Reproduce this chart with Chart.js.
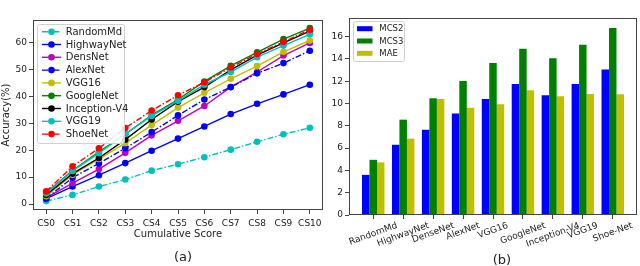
<!DOCTYPE html>
<html>
<head>
<meta charset="utf-8">
<script src="https://cdn.jsdelivr.net/npm/chart.js@4"></script>
<style>
  html, body { margin: 0; padding: 0; background: #fff; }
  body { width: 640px; height: 266px; position: relative; overflow: hidden; font-family: "DejaVu Sans", sans-serif; }
  .box { position: absolute; top: 0; height: 266px; }
  .cap { position: absolute; font-size: 13px; color: #222; transform: translate(-50%, -50%); }
</style>
</head>
<body>
<div class="box" style="left:0;width:330px"><canvas id="cs"></canvas></div>
<div class="box" style="left:325px;width:315px"><canvas id="mae"></canvas></div>
<div class="cap" style="left:183px;top:256px">(a)</div>
<div class="cap" style="left:502px;top:259px">(b)</div>
<script>
// ---- data (a): cumulative score curves
const csLabels = ['CS0', 'CS1', 'CS2', 'CS3', 'CS4', 'CS5', 'CS6', 'CS7', 'CS8', 'CS9', 'CS10'];
const randomMd = [1.1, 3.4, 6.5, 9.1, 12.4, 14.8, 17.4, 20.2, 23.1, 25.9, 28.3];
const highwayNet = [2.0, 6.5, 10.7, 15.2, 19.8, 24.3, 28.8, 33.4, 37.2, 40.7, 44.3];
const densNet = [2.3, 7.8, 13.0, 19.0, 25.5, 30.9, 36.4, 43.4, 49.0, 55.1, 59.8];
const alexNet = [2.1, 9.8, 15.1, 20.7, 26.7, 32.9, 38.8, 43.4, 48.5, 52.3, 56.9];
const vgg16 = [2.9, 10.9, 16.7, 22.6, 29.3, 35.8, 41.3, 46.5, 51.2, 56.5, 60.7];
const googleNet = [4.2, 12.4, 19.4, 25.9, 33.0, 38.8, 45.5, 51.3, 56.3, 61.2, 65.3];
const inceptionV4 = [3.4, 11.3, 17.1, 23.9, 31.4, 38.0, 43.4, 49.8, 55.3, 59.8, 64.2];
const vgg19 = [3.9, 12.3, 18.9, 26.0, 32.7, 38.3, 44.3, 49.0, 54.5, 58.8, 63.0];
const shoeNet = [4.7, 14.0, 20.7, 28.2, 34.7, 40.4, 45.2, 50.7, 55.7, 60.2, 64.7];
const accTicks = [0, 10, 20, 30, 40, 50, 60];

// ---- data (b): MCS / MAE bars
const models = ['RandomMd', 'HighwayNet', 'DenseNet', 'AlexNet', 'VGG16', 'GoogleNet', 'Inception-V4', 'VGG19', 'Shoe-Net'];
const mcs2 = [3.6, 6.3, 7.65, 9.1, 10.4, 11.75, 10.75, 11.75, 13.05];
const mcs3 = [4.95, 8.55, 10.47, 12.02, 13.64, 14.92, 14.05, 15.28, 16.78];
const mae = [4.72, 6.85, 10.41, 9.63, 9.93, 11.18, 10.65, 10.86, 10.83];
const barTicks = [0, 2, 4, 6, 8, 10, 12, 14, 16];

const FONT = 'DejaVu Sans';
const DASHDOT = [6, 2, 1.5, 2];

function frame(color) {
  return {
    id: 'frame',
    afterDraw(chart) {
      const a = chart.chartArea, ctx = chart.ctx;
      ctx.save();
      ctx.strokeStyle = color;
      ctx.lineWidth = 1;
      ctx.strokeRect(Math.round(a.left) + 0.5, Math.round(a.top) + 0.5,
        Math.round(a.right - a.left) - 1, Math.round(a.bottom - a.top) - 1);
      ctx.restore();
    }
  };
}

// legend drawn inside the plot, matplotlib style
function innerLegend(o) {
  return {
    id: 'innerLegend',
    afterDatasetsDraw(chart) {
      const a = chart.chartArea, ctx = chart.ctx;
      const x0 = a.left + o.dx, y0 = a.top + o.dy;
      ctx.save();
      ctx.fillStyle = 'rgba(255,255,255,0.85)';
      ctx.strokeStyle = '#d0d0d0';
      ctx.lineWidth = 1;
      ctx.beginPath();
      ctx.roundRect(x0 + 0.5, y0 + 0.5, o.w, o.h, 2);
      ctx.fill();
      ctx.stroke();
      ctx.font = o.size + 'px "' + FONT + '"';
      ctx.textBaseline = 'middle';
      chart.data.datasets.forEach(function (ds, i) {
        const y = y0 + o.first + i * o.row;
        if (o.kind === 'line') {
          ctx.strokeStyle = ds.borderColor;
          ctx.lineWidth = ds.borderWidth;
          ctx.setLineDash(ds.borderDash || []);
          ctx.beginPath();
          ctx.moveTo(x0 + 5, y);
          ctx.lineTo(x0 + 24, y);
          ctx.stroke();
          ctx.setLineDash([]);
          ctx.fillStyle = ds.borderColor;
          ctx.beginPath();
          ctx.arc(x0 + 14.5, y, 3.3, 0, Math.PI * 2);
          ctx.fill();
        } else {
          ctx.fillStyle = ds.backgroundColor;
          ctx.fillRect(x0 + 4, y - 2.5, 15.5, 5);
        }
        ctx.fillStyle = '#222';
        ctx.fillText(ds.label, x0 + o.textX, y + 0.5);
      });
      ctx.restore();
    }
  };
}

// rotated, centred category labels (matplotlib rotation=20, ha=center)
const rotLabels = {
  id: 'rotLabels',
  afterDraw(chart) {
    const sx = chart.scales.x, ctx = chart.ctx;
    const ang = 20 * Math.PI / 180;
    ctx.save();
    ctx.font = '9px "' + FONT + '"';
    ctx.fillStyle = '#222';
    ctx.textAlign = 'center';
    ctx.textBaseline = 'middle';
    models.forEach(function (name, i) {
      const w = ctx.measureText(name).width;
      const h = w * Math.sin(ang) + 9 * Math.cos(ang);
      const x = sx.getPixelForValue(i);
      const y = chart.chartArea.bottom + 6 + h / 2;
      ctx.save();
      ctx.translate(x, y);
      ctx.rotate(-ang);
      ctx.fillText(name, 0, 0);
      ctx.restore();
    });
    ctx.restore();
  }
};

function line(label, data, color, dashed) {
  return {
    label: label,
    data: data,
    borderColor: color,
    backgroundColor: color,
    borderWidth: 1.4,
    borderDash: dashed ? DASHDOT : [],
    pointRadius: 3.3,
    pointHoverRadius: 3.3,
    pointBorderWidth: 0,
    tension: 0,
    fill: false
  };
}

const lineSets = [
  line('RandomMd', randomMd, '#00bfbf', true),
  line('HighwayNet', highwayNet, '#0000ff', false),
  line('DensNet', densNet, '#bf00bf', false),
  line('AlexNet', alexNet, '#0000ff', true),
  line('VGG16', vgg16, '#bfbf00', false),
  line('GoogleNet', googleNet, '#008000', false),
  line('Inception-V4', inceptionV4, '#000000', false),
  line('VGG19', vgg19, '#00bfbf', false),
  line('ShoeNet', shoeNet, '#ff0000', true)
];
// later series on top, like matplotlib
lineSets.forEach(function (ds, i) { ds.order = lineSets.length - i; });

Chart.defaults.font.family = FONT;
Chart.defaults.color = '#222';

new Chart(document.getElementById('cs'), {
  type: 'line',
  data: { labels: csLabels, datasets: lineSets },
  options: {
    responsive: true,
    maintainAspectRatio: false,
    animation: false,
    layout: { padding: { left: 0, right: 7, top: 20, bottom: 25 } },
    plugins: { legend: { display: false }, tooltip: { enabled: false } },
    scales: {
      x: {
        offset: true,
        grid: { drawOnChartArea: false, offset: false, tickLength: 4, tickColor: '#444' },
        border: { display: false },
        ticks: { font: { size: 9 }, padding: 4, maxRotation: 0, autoSkip: false },
        title: { display: true, text: 'Cumulative Score', font: { size: 10 }, padding: { top: 0, bottom: 1 } },
        afterFit: function (s) { s.height = 31; }
      },
      y: {
        min: -2.2,
        max: 68.3,
        afterBuildTicks: function (s) { s.ticks = accTicks.map(function (v) { return { value: v }; }); },
        grid: { drawOnChartArea: false, tickLength: 4, tickColor: '#444' },
        border: { display: false },
        ticks: { font: { size: 9 }, padding: 2 },
        title: { display: true, text: 'Accuracy(%)', font: { size: 10 }, padding: 0 },
        afterFit: function (s) { s.width = 33; }
      }
    }
  },
  plugins: [frame('#444'), innerLegend({ kind: 'line', dx: 4, dy: 4, w: 87, h: 119, first: 7.7, row: 12.8, textX: 28.7, size: 10 })]
});

function bars(label, values, color) {
  return {
    label: label,
    data: values.map(function (v, i) { return { x: i, y: v }; }),
    backgroundColor: color,
    borderWidth: 0,
    categoryPercentage: 0.75,
    barPercentage: 1
  };
}

new Chart(document.getElementById('mae'), {
  type: 'bar',
  data: {
    datasets: [
      bars('MCS2', mcs2, '#0000ff'),
      bars('MCS3', mcs3, '#008000'),
      bars('MAE', mae, '#bfbf00')
    ]
  },
  options: {
    responsive: true,
    maintainAspectRatio: false,
    animation: false,
    layout: { padding: { left: 0, right: 3, top: 18, bottom: 11 } },
    plugins: { legend: { display: false }, tooltip: { enabled: false } },
    scales: {
      x: {
        type: 'linear',
        offset: false,
        min: -0.81,
        max: 8.81,
        afterBuildTicks: function (s) { s.ticks = models.map(function (m, i) { return { value: i }; }); },
        grid: { drawOnChartArea: false, offset: false, tickLength: 4, tickColor: '#444' },
        border: { display: false },
        ticks: { display: false },
        afterFit: function (s) { s.height = 40; }
      },
      y: {
        min: 0,
        max: 17.67,
        afterBuildTicks: function (s) { s.ticks = barTicks.map(function (v) { return { value: v }; }); },
        grid: { drawOnChartArea: false, tickLength: 4, tickColor: '#444' },
        border: { display: false },
        ticks: { font: { size: 9 }, padding: 2 },
        afterFit: function (s) { s.width = 24; }
      }
    }
  },
  plugins: [frame('#444'), rotLabels, innerLegend({ kind: 'box', dx: 4, dy: 3, w: 51, h: 40, first: 7.7, row: 12.3, textX: 26.3, size: 8.5 })]
});
</script>
</body>
</html>
